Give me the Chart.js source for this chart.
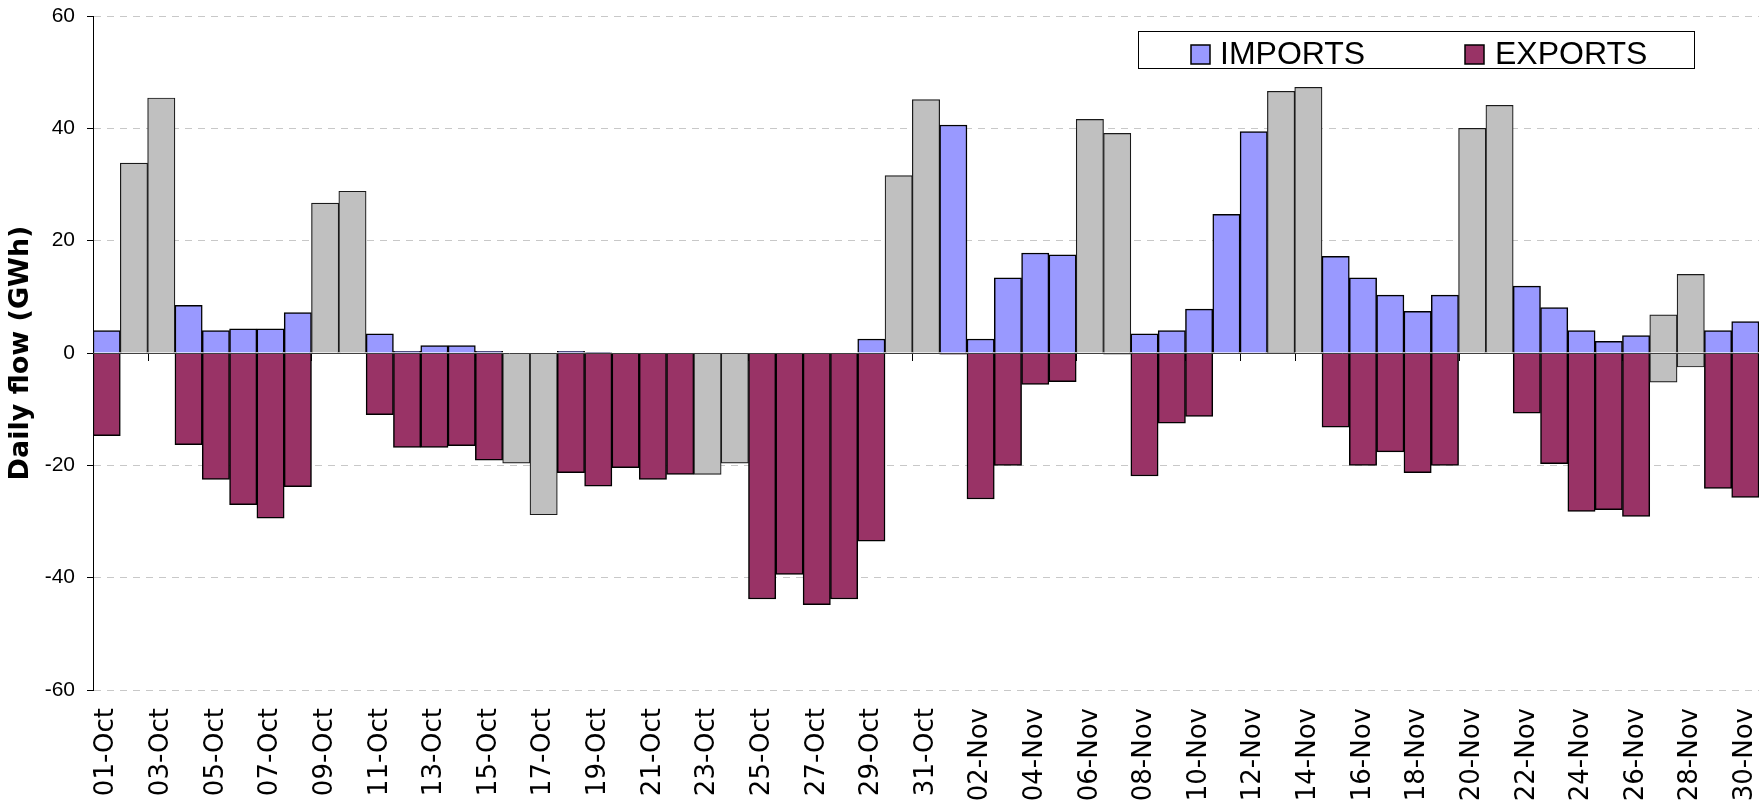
<!DOCTYPE html>
<html><head><meta charset="utf-8">
<script src="https://cdn.jsdelivr.net/npm/chart.js@4/dist/chart.umd.min.js"></script>
<style>html,body{margin:0;padding:0;background:#fff;}canvas{display:block;}</style>
</head><body>
<canvas id="c" width="1761" height="804"></canvas>
<script>
const dates = ['01-Oct','02-Oct','03-Oct','04-Oct','05-Oct','06-Oct','07-Oct','08-Oct','09-Oct','10-Oct',
  '11-Oct','12-Oct','13-Oct','14-Oct','15-Oct','16-Oct','17-Oct','18-Oct','19-Oct','20-Oct',
  '21-Oct','22-Oct','23-Oct','24-Oct','25-Oct','26-Oct','27-Oct','28-Oct','29-Oct','30-Oct','31-Oct',
  '01-Nov','02-Nov','03-Nov','04-Nov','05-Nov','06-Nov','07-Nov','08-Nov','09-Nov','10-Nov',
  '11-Nov','12-Nov','13-Nov','14-Nov','15-Nov','16-Nov','17-Nov','18-Nov','19-Nov','20-Nov',
  '21-Nov','22-Nov','23-Nov','24-Nov','25-Nov','26-Nov','27-Nov','28-Nov','29-Nov','30-Nov'];
const weekendDays = ['02-Oct','03-Oct','09-Oct','10-Oct','16-Oct','17-Oct','23-Oct','24-Oct','30-Oct','31-Oct',
  '06-Nov','07-Nov','13-Nov','14-Nov','20-Nov','21-Nov','27-Nov','28-Nov'];
const importFlows = [4.0,33.8,45.4,8.5,4.0,4.3,4.3,7.2,26.7,28.8,
  3.4,0.3,1.3,1.3,0.3,0,0,0.3,0.1,0,
  0,0,0,0,0,0,0,0,2.5,31.6,45.1,
  40.6,2.5,13.4,17.8,17.5,41.6,39.1,3.4,4.0,7.8,
  24.7,39.4,46.6,47.3,17.2,13.4,10.3,7.4,10.3,40.0,
  44.1,11.9,8.1,4.0,2.1,3.1,6.8,14.0,4.0,5.6];
const exportFlows = [-14.7,0,0,-16.3,-22.5,-27.0,-29.4,-23.8,0,0,
  -11.0,-16.8,-16.8,-16.5,-19.1,-19.6,-28.8,-21.3,-23.7,-20.4,
  -22.5,-21.6,-21.6,-19.6,-43.8,-39.4,-44.8,-43.8,-33.5,0,0,
  -0.2,-26.0,-20.0,-5.6,-5.1,0,-0.2,-21.9,-12.5,-11.3,
  0,0,0,0,-13.2,-20.0,-17.6,-21.3,-20.0,0,
  0,-10.7,-19.7,-28.2,-27.9,-29.1,-5.2,-2.5,-24.1,-25.7];
const seriesNames = ['IMPORTS','EXPORTS'];
const yTitle = 'Daily flow (GWh)';

const FONT = "'Liberation Sans', Arial, sans-serif";
const WIDE = "'DejaVu Sans', 'Liberation Sans', sans-serif";
const C_IMP = '#9999FF', C_EXP = '#993366', C_WE = '#C0C0C0';
const isWeekend = dates.map(d => weekendDays.includes(d));

const axisDecor = {
  id: 'axisDecor',
  beforeDatasetsDraw(chart) {
    const {ctx, scales: {x, y}} = chart;
    const y0 = y.getPixelForValue(0);
    const w = x.getPixelForValue(1) - x.getPixelForValue(0);
    ctx.save();
    ctx.strokeStyle = '#000'; ctx.lineWidth = 1;
    for (let i = 0; i < dates.length; i += 2) {
      const px = Math.round(x.getPixelForValue(i) - w / 2) + 0.5;
      ctx.beginPath(); ctx.moveTo(px, y0); ctx.lineTo(px, y0 + 8); ctx.stroke();
    }
    ctx.restore();
  },
  afterDatasetsDraw(chart) {
    const {ctx, chartArea, scales: {y}} = chart;
    const y0 = Math.round(y.getPixelForValue(0)) + 0.5;
    ctx.save();
    ctx.strokeStyle = '#404040'; ctx.lineWidth = 1;
    ctx.beginPath(); ctx.moveTo(chartArea.left, y0); ctx.lineTo(chartArea.right, y0); ctx.stroke();
    ctx.restore();
  },
  afterDraw(chart) {
    const ctx = chart.ctx;
    ctx.save();
    ctx.fillStyle = '#fff'; ctx.strokeStyle = '#000'; ctx.lineWidth = 1;
    ctx.fillRect(1138, 31, 556, 37);
    ctx.strokeRect(1138.5, 31.5, 556, 37);
    const items = [[1191, 1220, C_IMP, seriesNames[0]], [1465, 1495, C_EXP, seriesNames[1]]];
    ctx.font = '32px ' + FONT; ctx.textBaseline = 'alphabetic'; ctx.textAlign = 'left';
    items.forEach(([sx, tx, col, txt]) => {
      ctx.fillStyle = col; ctx.fillRect(sx, 45, 19, 19);
      ctx.lineWidth = 1.5; ctx.strokeStyle = '#000'; ctx.strokeRect(sx, 45, 19, 19);
      ctx.fillStyle = '#000'; ctx.fillText(txt, tx, 64);
    });
    ctx.restore();
  }
};

new Chart(document.getElementById('c'), {
  type: 'bar',
  data: {
    labels: dates,
    datasets: [
      { label: seriesNames[0], data: importFlows,
        backgroundColor: c => isWeekend[c.dataIndex] ? C_WE : C_IMP,
        borderColor: c => isWeekend[c.dataIndex] ? '#1a1a1a' : '#000',
        borderWidth: c => isWeekend[c.dataIndex] ? 1.2 : 1.5,
        categoryPercentage: 1, barPercentage: 1 },
      { label: seriesNames[1], data: exportFlows,
        backgroundColor: c => isWeekend[c.dataIndex] ? C_WE : C_EXP,
        borderColor: c => isWeekend[c.dataIndex] ? '#1a1a1a' : '#000',
        borderWidth: c => isWeekend[c.dataIndex] ? 1.2 : 1.5,
        categoryPercentage: 1, barPercentage: 1 }
    ]
  },
  options: {
    responsive: false, animation: false, devicePixelRatio: 1,
    layout: { padding: { top: 16, right: 2, left: 0, bottom: 0 } },
    plugins: { legend: { display: false }, tooltip: { enabled: false } },
    scales: {
      x: {
        stacked: true,
        grid: { display: false },
        border: { display: false },
        ticks: {
          autoSkip: false, maxRotation: 90, minRotation: 90, padding: 10,
          color: '#000', font: { family: WIDE, size: 26 },
          callback: (v, i) => i % 2 === 0 ? dates[i] : ''
        },
        afterFit: s => { s.height = 114; s.paddingLeft = 0; s.paddingRight = 0; }
      },
      y: {
        stacked: true, min: -60, max: 60,
        ticks: { stepSize: 20, padding: 12, color: '#000', font: { family: FONT, size: 21 } },
        grid: { color: '#c8c8c8', lineWidth: 1, tickLength: 6, tickColor: '#000' },
        border: { display: true, color: '#000', width: 1, dash: [7, 6] },
        title: { display: true, text: yTitle, color: '#000', padding: { top: 5, bottom: 0 },
          font: { family: WIDE, size: 27, weight: 'bold' } },
        afterFit: s => { s.width = 93; s.paddingTop = 0; s.paddingBottom = 0; }
      }
    }
  },
  plugins: [axisDecor]
});
</script>
</body></html>
